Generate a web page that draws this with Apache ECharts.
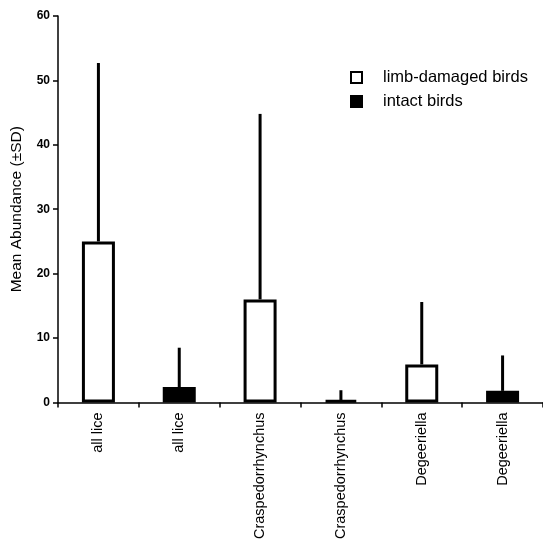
<!DOCTYPE html>
<html>
<head>
<meta charset="utf-8">
<script src="https://cdn.jsdelivr.net/npm/echarts@6/dist/echarts.min.js"></script>
<style>
  html, body { margin: 0; padding: 0; background: #fff; }
  #main { width: 543px; height: 542px; }
</style>
</head>
<body>
<div id="main"></div>
<script>
// categories and values
var categories = ['all lice', 'all lice', 'Craspedorrhynchus', 'Craspedorrhynchus', 'Degeeriella', 'Degeeriella'];
var damagedMeans = [25.0, null, 16.0, null, 5.9, null];
var intactMeans = [null, 2.4, null, 0.35, null, 1.8];
var sdValues = [27.7, 6.1, 28.8, 1.55, 9.7, 5.5];
var yTicks = [0, 10, 20, 30, 40, 50, 60];

var myChart = echarts.init(document.getElementById('main'));

// mean + SD for each category
var errData = categories.map(function (c, i) {
    var m = damagedMeans[i] != null ? damagedMeans[i] : intactMeans[i];
    return [i, m, m + sdValues[i]];
});

var font = 'Liberation Sans, Arial, sans-serif';

var option = {
    backgroundColor: '#fff',
    animation: false,
    grid: { left: 58, right: 0, top: 16, bottom: 138, containLabel: false },
    legend: {
        orient: 'vertical',
        left: 345,
        top: 64,
        itemWidth: 11,
        itemHeight: 11,
        itemGap: 7,
        icon: 'rect',
        textStyle: { fontFamily: font, fontSize: 16.5, color: '#000', padding: [0, 0, 0, 16] },
        data: ['limb-damaged birds', 'intact birds']
    },
    xAxis: {
        type: 'category',
        data: categories,
        axisLine: { lineStyle: { color: '#000', width: 1.5 } },
        axisTick: { show: true, length: 5, lineStyle: { color: '#000', width: 1.5 } },
        axisLabel: { rotate: 90, interval: 0, color: '#000', fontFamily: font, fontSize: 14.5, margin: 10 }
    },
    yAxis: {
        type: 'value',
        min: yTicks[0],
        max: yTicks[yTicks.length - 1],
        interval: 10,
        name: 'Mean Abundance (\u00b1SD)',
        nameLocation: 'middle',
        nameGap: 33,
        nameTextStyle: { fontFamily: font, fontSize: 15.5, color: '#000' },
        axisLine: { show: true, lineStyle: { color: '#000', width: 1.5 } },
        axisTick: { show: true, length: 5, lineStyle: { color: '#000', width: 1.5 } },
        axisLabel: { color: '#000', fontFamily: font, fontSize: 12, fontWeight: 'bold', margin: 8 },
        splitLine: { show: false }
    },
    series: [
        {
            name: 'limb-damaged birds',
            type: 'bar',
            data: damagedMeans,
            barWidth: 33,
            barGap: '-100%',
            itemStyle: { color: '#fff', borderColor: '#000', borderWidth: 3 }
        },
        {
            name: 'intact birds',
            type: 'bar',
            data: intactMeans,
            barWidth: 33,
            barGap: '-100%',
            itemStyle: { color: '#000', borderColor: '#000', borderWidth: 3 }
        },
        {
            name: 'SD',
            type: 'custom',
            data: errData,
            z: 1,
            renderItem: function (params, api) {
                var p0 = api.coord([api.value(0), api.value(1)]);
                var p1 = api.coord([api.value(0), api.value(2)]);
                return {
                    type: 'line',
                    shape: { x1: p0[0], y1: p0[1], x2: p1[0], y2: p1[1] },
                    style: { stroke: '#000', lineWidth: 3 }
                };
            }
        }
    ]
};

myChart.setOption(option);
</script>
</body>
</html>
